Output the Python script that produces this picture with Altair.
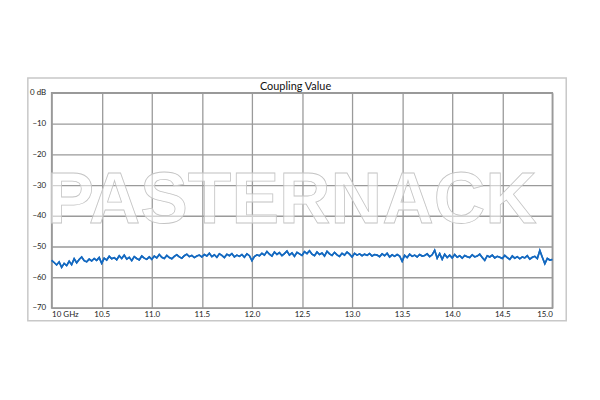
import altair as alt
import numpy as np
import pandas as pd

freq_start = 10.0
freq_stop = 15.0

coupling_db = [
    -54.5, -55.2, -56.0, -55.0, -56.8, -55.5, -56.2, -54.8, -55.9, -54.0,
    -55.3, -54.2, -53.4, -54.6, -55.0, -54.1, -54.7, -53.9, -54.5, -53.6,
    -55.5, -53.8, -54.4, -53.2, -54.0, -53.6, -54.3, -53.0, -53.9, -52.8,
    -54.1, -53.5, -54.6, -53.3, -53.9, -54.4, -53.1, -53.8, -54.2, -53.4,
    -54.2, -53.1, -53.7, -52.6, -53.5, -53.9, -52.9, -53.6, -54.0, -53.2,
    -52.7, -53.4, -53.8, -53.0, -52.5, -53.3, -52.9, -53.6, -53.1, -52.8,
    -53.4, -52.6, -53.1, -52.2, -53.3, -52.7, -53.5, -52.4, -52.9, -53.6,
    -52.5, -53.0, -52.3, -53.4, -52.8, -53.2, -52.6, -53.5, -52.4, -53.0,
    -54.6, -53.3, -52.7, -53.0, -52.2, -52.8, -51.6, -52.5, -53.1, -51.8,
    -52.6, -52.0, -53.0, -52.3, -51.5, -52.8, -52.1, -53.2, -51.9, -52.4,
    -52.9, -51.7, -52.3, -51.4, -52.5, -53.0, -51.8, -52.6, -52.1, -53.1,
    -51.6, -52.4, -52.9, -51.9, -52.7, -53.2, -52.2, -52.8, -51.8, -52.5,
    -53.4, -52.2, -52.8, -52.4, -53.0, -52.5, -52.9, -52.3, -53.1, -52.6,
    -52.8, -53.3, -52.4, -53.0, -52.2, -53.4, -52.7, -53.2, -52.6, -53.1,
    -54.8, -52.9, -53.6, -52.5, -53.2, -52.8, -53.4, -52.6, -53.1, -52.9,
    -52.4, -53.3, -52.7, -51.2, -53.8, -52.3, -54.2, -52.5, -53.6, -52.8,
    -53.7, -52.6, -53.5, -53.0, -53.8, -52.9, -53.3, -53.6, -52.7, -53.4,
    -53.1, -52.5, -53.6, -54.5, -53.0, -53.4, -52.8, -53.7, -53.2, -53.5,
    -53.9, -52.9, -53.6, -54.2, -53.1, -53.8, -53.3, -54.0, -53.4, -53.7,
    -53.0, -54.1, -53.5, -53.2, -53.9, -51.3, -53.5, -55.6, -53.9, -54.4,
    -54.2,
]

x_ticks = [10.0, 10.5, 11.0, 11.5, 12.0, 12.5, 13.0, 13.5, 14.0, 14.5, 15.0]
y_ticks = [0, -10, -20, -30, -40, -50, -60, -70]
title_text = "Coupling Value"
watermark_text = "PASTERNACK"

freqs = np.linspace(freq_start, freq_stop, len(coupling_db))
df = pd.DataFrame({"freq": freqs, "db": coupling_db})

W, H = 505, 217

frame = alt.Chart(pd.DataFrame({"a": [0]})).mark_rect(
    fill="white", fillOpacity=0, stroke="#c8c8c8", strokeWidth=1.5
).encode(
    x=alt.value(-24), x2=alt.value(519), y=alt.value(-15), y2=alt.value(230)
)

title = alt.Chart(pd.DataFrame({"t": [title_text]})).mark_text(
    font="Lato", fontSize=11, color="#111", align="center", baseline="alphabetic"
).encode(x=alt.value(246), y=alt.value(-3), text="t:N")

line = alt.Chart(df).mark_line(color="#1469c0", strokeWidth=1.6).encode(
    x=alt.X(
        "freq:Q",
        scale=alt.Scale(domain=[10, 15], nice=False, zero=False),
        axis=alt.Axis(
            values=x_ticks,
            labelExpr="datum.value == 10 ? '10 GHz' : format(datum.value, '.1f')",
            title=None,
            grid=True,
            ticks=False,
            domain=False,
            labelPadding=3,
        ),
    ),
    y=alt.Y(
        "db:Q",
        scale=alt.Scale(domain=[-70, 0], nice=False),
        axis=alt.Axis(
            values=y_ticks,
            labelExpr="datum.value == 0 ? '0 dB' : format(datum.value, 'd')",
            title=None,
            grid=True,
            ticks=False,
            domain=False,
            labelPadding=6,
        ),
    ),
)

watermark = alt.Chart(pd.DataFrame({"t": [watermark_text]})).mark_text(
    font="Liberation Sans",
    fontWeight="bold",
    fontSize=72,
    fill="white",
    fillOpacity=0.55,
    stroke="#c4c4c4",
    strokeWidth=0.8,
    align="center",
    baseline="alphabetic",
).encode(
    x=alt.value(242), y=alt.value(131), text="t:N"
)

chart = alt.layer(frame, title, line, watermark, line).properties(
    width=W,
    height=H,
    autosize=alt.AutoSizeParams(type="none"),
    padding={"left": 44, "top": 84, "right": 40, "bottom": 60},
    background="white",
).configure_view(
    stroke="#999999", strokeWidth=1.5
).configure_axis(
    gridColor="#9a9a9a",
    gridWidth=1.3,
    labelFont="Lato",
    labelFontSize=8,
    labelColor="#222",
)

chart.save("out.html", embed_options={"renderer": "svg", "actions": False})
